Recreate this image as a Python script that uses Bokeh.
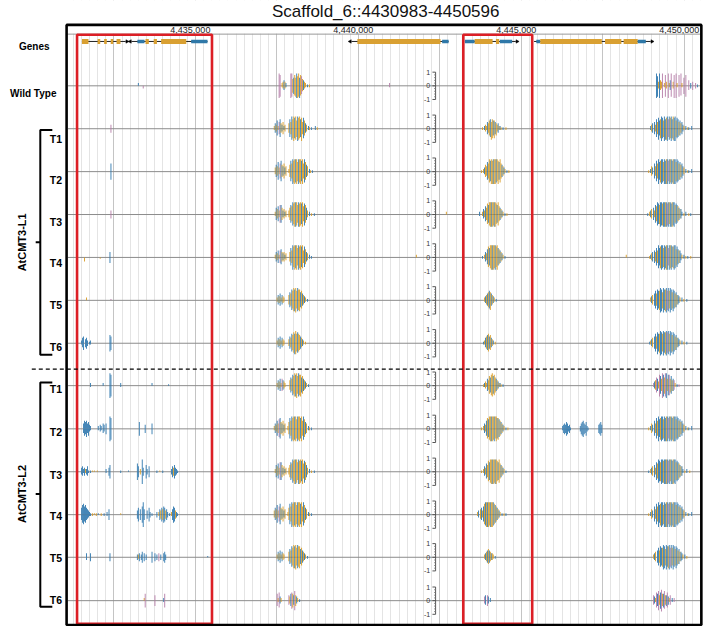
import numpy as np
from bokeh.plotting import figure
from bokeh.models import Range1d, Grid, SingleIntervalTicker, ColumnDataSource
from bokeh.core.properties import value
from bokeh.embed import file_html
from bokeh.resources import INLINE

# ---------------- data ----------------
TITLE = "Scaffold_6::4430983-4450596"
TICK_BP = [4435000, 4440000, 4445000, 4450000]
TICK_LABELS = ["4,435,000", "4,440,000", "4,445,000", "4,450,000"]

# gene models (bp)
GENE_START = [4431520, 4433041, 4439791, 4443271, 4445392]
GENE_END = [4432861, 4435372, 4442770, 4444831, 4448971]
GENE_STRAND = ["+", "-", "-", "+", "+"]
EXON_START = [4431520, 4432000, 4432201, 4432402, 4432582,
              4433221, 4433470, 4433722, 4433950, 4434871,
              4439971, 4442572,
              4443271, 4443571, 4444222, 4444342,
              4445461, 4445581, 4447570, 4448140, 4448572]
EXON_END = [4431721, 4432081, 4432282, 4432480, 4432702,
            4433440, 4433572, 4433821, 4434721, 4435372,
            4442521, 4442770,
            4443571, 4444120, 4444321, 4444720,
            4445581, 4447471, 4448071, 4448572, 4448821]
EXON_KIND = ["CDS", "CDS", "CDS", "CDS", "CDS",
             "UTR", "CDS", "CDS", "CDS", "UTR",
             "CDS", "UTR",
             "UTR", "CDS", "CDS", "UTR",
             "UTR", "CDS", "CDS", "CDS", "UTR"]

TRACKS = ["WT", "L1T1", "L1T2", "L1T3", "L1T4", "L1T5", "L1T6",
          "L2T1", "L2T2", "L2T3", "L2T4", "L2T5", "L2T6"]
TRACK_LABELS = ["Wild Type", "T1", "T2", "T3", "T4", "T5", "T6",
                "T1", "T2", "T3", "T4", "T5", "T6"]
GROUP_LABELS = ["AtCMT3-L1", "AtCMT3-L2"]

# methylation levels in 30-bp bins: token = context (b=CG, o=CHG, p=CHH),
# level on + strand (tenths), level on - strand (tenths); "." = no data
BIN_BP = 30
METH = {
 "WT": [(4433250, "b20 . . . . p02"),
        (4437570, "p99 p88 . o21 o32 b43 o32 b21 . . . . p99 p98 o55 b66 o87 o68 b99 o79 o98 b69 o87 p76 o54 b43 o32 o21 . b11 . o11"),
        (4440960, "p21"),
        (4449150, "b99 b78 o32 b99 o43 o32 p99 . o21 p88 o32 . p99 o21 b43 p98 . o32 p89 . p99 o21 . p88 . p97 o21 . p66 . p88 . . p43 . b22 . p33 . . p22 . b11")],
 "L1T1": [(4432410, "p33"),
          (4437420, "o21 b43 o32 b65 o21 p54 b76 o43 b32 o54 b21 o32 . . . o43 b76 o54 b98 o77 o99 b87 o98 o66 b99 o88 o97 b76 o89 o54 b87 o65 b43 o32 . b21 o11 . b11 . . . b21 . o11"),
          (4443810, "o11 . b21 o32 o21 b54 o43 o65 b76 o58 o77 b65 o67 b54 o45 o32 b43 o21 b21 o11 . b11 . . o11"),
          (4448970, "b21 o32 b43 . b54 o32 b76 o54 b88 b65 o77 b99 b87 o66 b99 b78 o88 b99 p76 b98 o87 b99 b77 o98 b89 b99 o66 b87 b76 o55 b65 o43 b54 b32 o21 . b21 . o11 b11 . . b21")],
 "L1T2": [(4432410, "b66"),
          (4437450, "o32 b54 o43 b76 o32 p65 b87 o54 b43 o65 b32 o43 . . o21 o54 b87 o65 b99 o88 o99 b98 o99 o77 b99 o98 o99 b87 o99 o65 b98 o76 b54 o43 . b21 o11 . b11"),
          (4443780, "o11 . o21 b32 o54 o43 b76 o65 o98 b87 o99 o89 b99 o99 o99 b98 o97 o89 b76 o98 o65 b54 o43 b32 o21 . b11 . o11"),
          (4448910, "o11 . b21 o43 b32 . b65 o43 b87 o65 b99 b76 o88 b99 b98 o77 b99 b89 o99 b99 p87 b99 o98 b99 b88 o99 b99 b99 o77 b98 b87 o66 b76 o54 b65 b43 o32 . b21 . o11 b11 . . b21")],
 "L1T3": [(4432410, "p33"),
          (4437450, "o21 b54 o43 b65 o32 p76 b76 o54 b32 o43 b21 o32 . . o32 o54 b76 o65 b98 o87 o99 b99 o98 o76 b99 o89 o98 b87 o99 o65 b88 o76 b54 o32 . b21 . o11 . . b11"),
          (4442700, "o20"),
          (4443720, "b21 . . o21 b43 o32 b65 o54 o87 b76 o98 o99 b99 o99 o98 b99 o99 o87 b76 o98 o65 b54 o43 b32 o21 . b11 . o11"),
          (4448880, "b11 . o21 b32 o43 . b54 o32 b76 o65 b98 b87 o77 b99 b98 o88 b99 b99 o99 b99 p88 b99 o97 b99 b89 o99 b98 b99 o76 b87 b76 o65 b54 o43 b43 b21 . o11 . b21 . . o11 . b11")],
 "L1T4": [(4431600, "o03"),
          (4432080, "o01"),
          (4432380, "b44"),
          (4437450, "o21 b43 o32 b54 o21 p54 b65 o43 b32 o43 b21 o32 . . . o43 b76 o54 b99 o87 o99 b98 o99 o76 b99 o88 o99 b87 o98 o54 b87 o65 b43 o32 . b21 . b11"),
          (4441780, "o20"),
          (4443810, "b11 . o21 b43 o32 b65 o87 b76 o98 o99 b99 o99 o98 b99 o87 o99 b76 o65 b54 o43 b32 o21 . b11"),
          (4448220, "o20"),
          (4448940, "o11 b21 o32 b43 . b54 o43 b76 o54 b98 b76 o88 b99 b98 o77 b99 b88 o99 b99 p76 b99 o98 b99 b87 o88 b99 b98 o66 b87 b65 o54 b54 b32 o21 . b21 . o11 . b11 . . o11")],
 "L1T5": [(4431660, "o20"),
          (4432410, "p10"),
          (4437510, "o21 b43 o32 b54 o21 b43 o32 o21 . . . . o43 b65 o54 b87 o76 o98 b88 o99 o76 b98 o87 o88 b65 o76 b54 o43 b32 o21 . b11"),
          (4443870, "o21 b32 o43 b54 o65 b76 o67 b54 o43 b32 o21 . b11"),
          (4448970, "o21 b32 o43 . b54 b76 o54 b87 b76 o77 b99 b88 o66 b99 b87 o88 b99 p77 b98 o76 b99 b87 o66 b88 b76 o55 b65 o43 b43 b32 o21 . b21 . o11 . . b11")],
 "L1T6": [(4431510, "b21 b43 b55 . b33 b44 b22 . b11 b21"),
          (4432380, "b66 b55"),
          (4437510, "o21 b43 o32 b54 o21 b43 o32 o21 . . . . o32 b54 o43 b76 o65 o87 b78 o98 o76 b87 o76 o65 b54 o43 b32 o21 . o11"),
          (4443840, "b11 o21 b43 o54 b65 o76 b54 o65 b43 o32 b21 . o11"),
          (4448940, "b11 o21 b32 o43 . b54 b76 o54 b88 b76 o77 b99 b88 o76 b99 b87 o88 b99 p87 b98 o76 b99 b87 o66 b88 b76 o55 b65 o43 b43 b32 o21 . b21 . o11 . . b11")],
 "L2T1": [(4431780, "b21"),
          (4432170, "b20"),
          (4432380, "b99 b88"),
          (4432710, "b21"),
          (4433670, "b20"),
          (4434180, "b10"),
          (4437510, "o21 b43 o32 b54 o21 p54 b43 o32 o21 . . . . o43 b65 o54 b87 o76 o98 b88 o99 o76 b98 o87 o88 b65 o76 b54 o43 b32 o21 . b11"),
          (4443840, "o11 b21 o32 o21 b54 o43 o76 b65 o87 o98 b76 o87 o65 b54 o43 b32 o21 b21 o11 . b11"),
          (4449060, "p21 b32 o43 p65 b54 o32 p88 b76 o54 p99 b88 o66 p98 b99 o54 b87 p87 o55 b76 o44 b54 p43 o21 . b11 . p11")],
 "L2T2": [(4431570, "b43 b65 b54 b66 b43 b55 b32 b21"),
          (4432020, "b21 . b32 b21 . b43 b32 . b44"),
          (4432380, "b99 b88"),
          (4433280, "b55"),
          (4433460, "b33"),
          (4433670, "b44"),
          (4437420, "o21 b43 o32 b65 o43 p76 b87 o54 b43 o65 b32 o43 . . o21 o54 b87 o65 b99 o88 o99 b98 o99 o77 b99 o98 o99 b87 o99 o65 b98 o76 b54 o43 . b21 o11 . b11"),
          (4443780, "o11 . o21 b43 o32 b65 o87 b76 o98 o99 b99 o99 o98 b99 o97 o99 b87 o88 b76 o65 b54 o43 b32 o21 . b11 . o11"),
          (4446270, "b21 b33 b44 b33 b55 b44 b22 b33 b11"),
          (4446810, "b22 b44 b55 b66 b44 b33 b55 b22 b11"),
          (4447380, "b33 b44 b55 b33"),
          (4448910, "o11 . b21 o43 b32 . b65 o43 b87 o65 b99 b76 o88 b99 b98 o77 b99 b89 o99 b99 p87 b99 o98 b99 b88 o99 b99 b99 o77 b98 b87 o66 b76 o54 b65 b43 o32 . b21 . o11 b11 . . b21")],
 "L2T3": [(4431510, "b32 b43 b21 b33 o21 b22 b43 b11 . b11 . o10 . o10 . . o10"),
          (4432260, "b21 . . b33 b55"),
          (4432710, "b11"),
          (4432950, "b10"),
          (4433220, "b66 b44 . o22 . b99 b33 . . b55 b22 . b44"),
          (4433820, "b11 . . o10 . . b11"),
          (4434270, "b22 b44 o33 b55 b33 b22 b11"),
          (4437450, "o21 b54 o43 b65 o32 p76 b76 o54 b32 o43 b21 o32 . . o32 o54 b76 o65 b98 o87 o99 b99 o98 o76 b99 o89 o98 b87 o99 o65 b88 o76 b54 o32 . b21 . o11 . . b11"),
          (4443780, "o11 . o21 b43 o32 b65 o54 o87 b76 o98 o99 b99 o99 o98 b99 o99 o87 b76 o98 o65 b54 o43 b32 o21 . b11"),
          (4448910, "b11 . o21 b32 o43 . b54 o32 b76 o65 b98 b87 o77 b99 b98 o88 b99 b99 o99 b99 p88 b99 o97 b99 b89 o99 b98 b99 o76 b87 b76 o65 b54 o43 b43 b21 . o11 . b21 . . o11")],
 "L2T4": [(4431510, "b54 b76 b87 b65 b76 b54 b43 b32 b21 b11"),
          (4431840, "o11 . o10 . o11 . b10 . . o11 . . b11 . . b21 . b44"),
          (4432710, "o10"),
          (4433220, "b33 b55 . b44 . b66 b99 b44 . . b33 . b55 b22 . b11"),
          (4433820, "b22 . o21 b44 o33 b55 o44 b66 b55 o33 b44 b22 . b11 . o21 b44 b66 b55 o33 b22 b11"),
          (4437420, "o32 b54 o43 b76 o32 p65 b87 o54 b43 o65 b32 o43 . . o21 o54 b87 o65 b99 o88 o99 b98 o99 o77 b99 o98 o99 b87 o99 o65 b98 o76 b54 o43 . b21 o11 . b11"),
          (4443660, "o21 b32 . o43 b54 o32 b65 o87 b98 o99 b99 o99 o98 b99 o99 o99 b98 o87 b76 o65 b54 o43 b32 o21 . b11 . o11 . b11"),
          (4448910, "o11 . b21 o43 b32 . b65 o43 b87 o65 b99 b76 o88 b99 b98 o77 b99 b89 o99 b99 p87 b99 o98 b99 b88 o99 b99 b99 o77 b98 b87 o66 b76 o54 b65 b43 o32 . b21 . o11 b11 . . b21")],
 "L2T5": [(4431660, "b32 . . . b33"),
          (4432380, "b33"),
          (4433220, "b22 o21 b33 . b22 b44 . b33 . b22 . . . . . b44 . . b33 . b22 . p33 . b22 . . b33 b44 b22"),
          (4435380, "b10"),
          (4437510, "o21 b43 o32 b54 o21 b43 o32 o21 . . . . o43 b65 o54 b87 o76 o98 b88 o99 o76 b98 o87 o88 b65 o76 b54 o43 b32 o21 . b11"),
          (4443870, "o21 b32 o43 b54 o65 b54 o43 b32 o32 o21 . b11"),
          (4449060, "o21 b32 o43 . b54 b76 o54 b87 b76 o77 b99 b88 o66 b99 b87 o88 b99 p77 b98 o76 b99 b87 o66 b88 b76 o55 b65 o43 b43 b32 o21 . b21 . o11")],
 "L2T6": [(4433430, "o20 p55"),
          (4433760, "p44"),
          (4434030, "b21 p55"),
          (4437510, "p54 o21 p65 b32 o21 . . . . . . . p43 o32 b54 p66 o55 b43 p77 o44 b32 o21 . b11"),
          (4443870, "p32 b43 . p44 b32 . b21"),
          (4449060, "p43 b32 o21 p65 b54 p77 o43 b66 p88 o54 b55 p76 o43 b44 p65 b33 o21 p43 . b21 . p21")],
}
MINI_TICKS = [1, 0, -1]
MINI_TICK_LABELS = ["1", "0", "-1"]
MINI_MINOR = [0.8, 0.6, 0.4, 0.2, -0.2, -0.4, -0.6, -0.8]

# ---------------- layout (reference pixels) ----------------
W, H = 703, 626
PX0, PX1 = 0.0, 719.0
PY_TOP, PY_BOT = 0.0, 642.0
BP0 = 4429021 + 30 * PX0
BP1 = 4429021 + 30 * PX1
TRACK_Y = [87.5, 131.5, 175.5, 219.5, 263.5, 307.5, 351.5,
           395.0, 439.3, 483.3, 527.3, 571.0, 615.5]
LABEL_Y = [95, 141.7, 184.3, 227, 269.3, 312.7, 355.7,
           398.3, 442.3, 486.7, 528.3, 571.7, 615]
HALF = 14.0
GENE_Y = 42.0
FONT = value("Liberation Sans")
COL = {"b": "#2c76ad", "o": "#d99a1e", "p": "#b47aa6"}
GENE_COL = {"CDS": "#d9a032", "UTR": "#2f78a8"}

extra_y = {t: Range1d(start=(cy - PY_BOT) / HALF, end=(cy - PY_TOP) / HALF)
           for t, cy in zip(TRACKS, TRACK_Y)}

p = figure(width=W, height=H, output_backend="svg", toolbar_location=None,
           x_range=Range1d(BP0, BP1), y_range=Range1d(PY_BOT, PY_TOP),
           x_axis_type=None, y_axis_type=None, min_border=0)
p.extra_x_ranges = {"px": Range1d(PX0, PX1)}
p.extra_y_ranges = extra_y
p.outline_line_color = None
p.background_fill_color = "white"
p.border_fill_color = "white"

grid = Grid(dimension=0, ticker=SingleIntervalTicker(interval=2500, num_minor_ticks=10),
            bounds=(4431110, 4450500), grid_line_color="#c4c4c4", grid_line_width=1,
            minor_grid_line_color="#e4e4e4", minor_grid_line_width=1)
p.add_layout(grid)

# cover grid outside the panel body
p.quad(left=[68.5, 68.5], right=[716.5, 716.5], top=[PY_TOP, 639.5], bottom=[34.2, PY_BOT],
       fill_color="white", line_color=None, x_range_name="px")

# top strip
p.segment(x0=[68], x1=[717], y0=[34.5], y1=[34.5], line_color="#9a9a9a", line_width=1,
          x_range_name="px")
p.text(x=TICK_BP, y=[30.0] * len(TICK_BP), text=TICK_LABELS, x_offset=-5,
       text_align="center", text_baseline="middle", text_font=FONT,
       text_font_size="9px", text_color="#222222")

# track baselines
p.segment(x0=[69] * len(TRACK_Y), x1=[716.5] * len(TRACK_Y), y0=TRACK_Y, y1=TRACK_Y,
          line_color="#8c8c8c", line_width=1, x_range_name="px")

# methylation bars
for t in TRACKS:
    xs, tops, bots, cols = [], [], [], []
    for start, s in METH[t]:
        for i, tok in enumerate(s.split()):
            if tok == ".":
                continue
            x = start + i * BIN_BP
            up, dn = int(tok[1]) / 10, int(tok[2]) / 10
            if up > 0:
                xs.append(x); tops.append(up); bots.append(0.0); cols.append(COL[tok[0]])
            if dn > 0:
                xs.append(x); tops.append(0.0); bots.append(-dn); cols.append(COL[tok[0]])
    src = ColumnDataSource(dict(x=xs, top=tops, bottom=bots, color=cols))
    p.vbar(x="x", top="top", bottom="bottom", width=27, fill_color="color",
           line_color=None, source=src, y_range_name=t)

# mini axes
for t in TRACKS:
    p.segment(x0=[445], x1=[445], y0=[-1], y1=[1], line_color="#555555", line_width=1,
              x_range_name="px", y_range_name=t)
    p.segment(x0=[441.8] * 3, x1=[445] * 3, y0=MINI_TICKS, y1=MINI_TICKS,
              line_color="#555555", line_width=1, x_range_name="px", y_range_name=t)
    p.segment(x0=[443.4] * len(MINI_MINOR), x1=[445] * len(MINI_MINOR), y0=MINI_MINOR,
              y1=MINI_MINOR, line_color="#777777", line_width=0.8,
              x_range_name="px", y_range_name=t)
    p.text(x=[439.5] * 3, y=MINI_TICKS, text=MINI_TICK_LABELS, text_align="right",
           text_baseline="middle", text_font=FONT, text_font_size="7px",
           text_color="#333333", x_range_name="px", y_range_name=t)

# genes
p.segment(x0=GENE_START, x1=GENE_END, y0=[GENE_Y] * 5, y1=[GENE_Y] * 5,
          line_color="#222222", line_width=1)
ex_h = [2.5 if k == "CDS" else 1.8 for k in EXON_KIND]
p.quad(left=EXON_START, right=EXON_END,
       top=[GENE_Y - h for h in ex_h], bottom=[GENE_Y + h for h in ex_h],
       fill_color=[GENE_COL[k] for k in EXON_KIND], line_color=None)
arrow_x = [e + 40 if s == "+" else b - 40 for b, e, s in zip(GENE_START, GENE_END, GENE_STRAND)]
arrow_a = [-np.pi / 2 if s == "+" else np.pi / 2 for s in GENE_STRAND]
p.scatter(x=arrow_x, y=[GENE_Y] * 5, marker="triangle", size=3.5, angle=arrow_a,
          fill_color="black", line_color="black", line_width=0.5)

# highlight boxes
p.quad(left=[78.3, 473.3], right=[216.3, 543.8], top=[35.2, 35.2], bottom=[639.3, 639.3],
       fill_color=None, line_color="#dc1f26", line_width=2.6, x_range_name="px")

# panel border
p.quad(left=[67.6], right=[716.8], top=[25.0], bottom=[640.4], fill_color=None,
       line_color="black", line_width=2.6, x_range_name="px")

# group separator
p.segment(x0=[32], x1=[716], y0=[378], y1=[378], line_color="black", line_width=1.2,
          line_dash="4 3", x_range_name="px")

# left labels
p.text(x=[34.5, 33.5], y=[47, LABEL_Y[0]], text=["Genes", TRACK_LABELS[0]],
       text_align="center", text_baseline="middle", text_font=FONT,
       text_font_style="bold", text_font_size="10px", text_color="black",
       x_range_name="px")
p.text(x=[63] * 12, y=LABEL_Y[1:], text=TRACK_LABELS[1:], text_align="right",
       text_baseline="middle", text_font=FONT, text_font_style="bold",
       text_font_size="10.5px", text_color="black", x_range_name="px")
# brackets
for (top_y, bot_y, mid_y) in [(132.7, 363.3, 248.0), (391.7, 621.7, 506.0)]:
    p.multi_line(xs=[[53, 40.7, 40.7, 53], [36, 40.7]],
                 ys=[[top_y, top_y, bot_y, bot_y], [mid_y, mid_y]],
                 line_color="black", line_width=2, x_range_name="px")
p.text(x=[21.7, 21.7], y=[248.0, 506.0], text=GROUP_LABELS, angle=np.pi / 2,
       text_align="center", text_baseline="middle", text_font=FONT,
       text_font_style="bold", text_font_size="11px", text_color="black",
       x_range_name="px")

# title
p.text(x=[394], y=[11.5], text=[TITLE], text_align="center", text_baseline="middle",
       text_font=FONT, text_font_size="17px", text_color="#111111", x_range_name="px")

open("out.html", "w").write(file_html(p, INLINE))
